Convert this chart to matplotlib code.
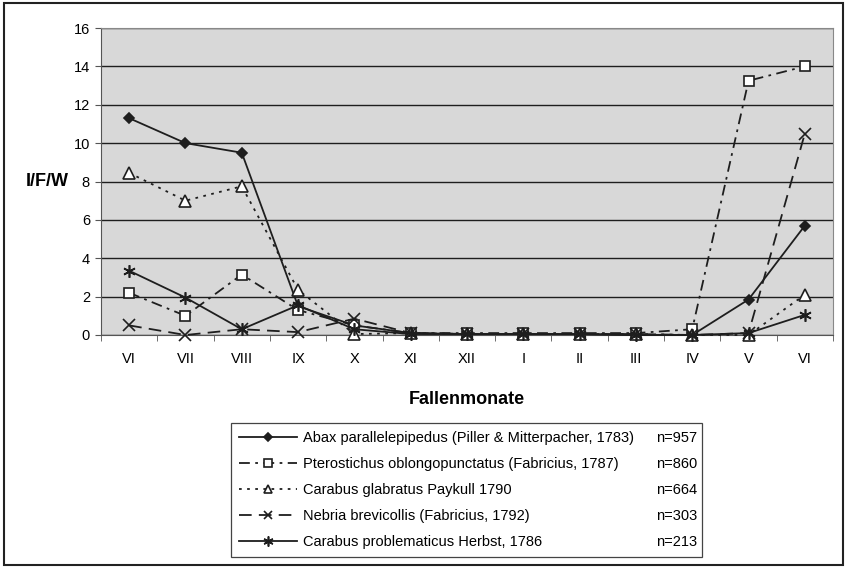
import matplotlib

matplotlib.use("Agg")
import matplotlib.pyplot as plt  # noqa: E402
from matplotlib.patches import Rectangle  # noqa: E402

plt.rcParams["font.family"] = ["Liberation Sans", "DejaVu Sans"]

MONTHS = ["VI", "VII", "VIII", "IX", "X", "XI", "XII", "I", "II", "III", "IV", "V", "VI"]

ABAX = [11.3, 10.0, 9.5, 1.5, 0.5, 0.1, 0.05, 0.05, 0.05, 0.0, 0.0, 1.85, 5.7]
PTEROSTICHUS = [2.2, 1.0, 3.15, 1.3, 0.5, 0.1, 0.1, 0.1, 0.1, 0.1, 0.3, 13.25, 14.0]
GLABRATUS = [8.45, 7.0, 7.75, 2.35, 0.05, 0.1, 0.05, 0.05, 0.05, 0.05, 0.0, 0.0, 2.1]
NEBRIA = [0.5, 0.0, 0.3, 0.15, 0.85, 0.1, 0.05, 0.05, 0.05, 0.05, 0.0, 0.1, 10.5]
PROBLEMATICUS = [3.35, 1.95, 0.3, 1.55, 0.3, 0.05, 0.05, 0.05, 0.05, 0.0, 0.0, 0.1, 1.05]

NAMES = ["Abax parallelepipedus (Piller & Mitterpacher, 1783)",
         "Pterostichus oblongopunctatus (Fabricius, 1787)",
         "Carabus glabratus Paykull 1790",
         "Nebria brevicollis (Fabricius, 1792)",
         "Carabus problematicus Herbst, 1786"]
COUNTS = ["n=957", "n=860", "n=664", "n=303", "n=213"]

INK = "#1e1e1e"

fig = plt.figure(figsize=(8.47, 5.70), dpi=100, facecolor="white")
ax = fig.add_axes([101 / 847, 1 - 335 / 570, (833 - 101) / 847, (335 - 28) / 570])
ax.set_facecolor("#d8d8d8")

x = list(range(len(MONTHS)))
styles = [
    dict(data=ABAX, ls="-", marker="D", ms=5.5, mfc=INK),
    dict(data=PTEROSTICHUS, ls=(0, (6, 3, 1.5, 3)), marker="s", ms=7, mfc="white"),
    dict(data=GLABRATUS, ls=(0, (1.5, 3)), marker="^", ms=8, mfc="white"),
    dict(data=NEBRIA, ls=(0, (7, 4)), marker="x", ms=8, mfc=INK),
    dict(data=PROBLEMATICUS, ls="-", marker=(6, 2, 0), ms=9, mfc=INK),
]
handles = []
for st, name in zip(styles, NAMES):
    h, = ax.plot(x, st["data"], color=INK, lw=1.3, linestyle=st["ls"],
                 marker=st["marker"], markersize=st["ms"],
                 markerfacecolor=st["mfc"], markeredgecolor=INK,
                 markeredgewidth=1.2, label=name, clip_on=False, zorder=3)
    handles.append(h)

ax.set_xlim(-0.5, len(MONTHS) - 0.5)
ax.set_ylim(0, 16)
ax.set_yticks(range(0, 17, 2))
ax.yaxis.grid(True, color=INK, lw=1.0)
ax.set_axisbelow(True)
ax.set_xticks(x)
ax.set_xticklabels(MONTHS, fontsize=10.5)
ax.set_xticks([i - 0.5 for i in range(len(MONTHS) + 1)], minor=True)
ax.tick_params(axis="x", which="major", length=0, pad=12)
ax.tick_params(axis="x", which="minor", length=4, color="#555555")
ax.tick_params(axis="y", labelsize=10.5, length=4, color="#555555", pad=4)

for side in ["top", "right"]:
    ax.spines[side].set_color("#888888")
    ax.spines[side].set_linewidth(0.8)
    ax.spines[side].set_linestyle((0, (1, 1)))
ax.spines["left"].set_color("#555555")
ax.spines["bottom"].set_color("#555555")

ax.set_xlabel("Fallenmonate", fontsize=13, fontweight="bold", labelpad=18)
fig.text(47 / 847, 1 - 182 / 570, "I/F/W", fontsize=13, fontweight="bold",
         ha="center", va="center")

leg = fig.legend(handles=handles, labels=NAMES, loc="upper left",
                 bbox_to_anchor=(231 / 847, 1 - 562 / 570, (702 - 231) / 847, (562 - 423) / 570),
                 mode="expand", fontsize=10.5, handlelength=4.0, handletextpad=0.4,
                 labelspacing=0.82, borderpad=0.55, frameon=True, fancybox=False,
                 borderaxespad=0, framealpha=1.0, markerscale=0.8)
leg.get_frame().set_edgecolor("#444444")
leg.get_frame().set_linewidth(0.9)

# n= column, right aligned inside the legend box
fig.canvas.draw()
inv = fig.transFigure.inverted()
for t, n in zip(leg.get_texts(), COUNTS):
    bb = t.get_window_extent()
    yc = inv.transform((0, (bb.y0 + bb.y1) / 2))[1]
    fig.text(697 / 847, yc, n, fontsize=10.5, ha="right", va="center", zorder=10)

fig.patches.append(Rectangle((4 / 847, 1 - 565 / 570), (843 - 4) / 847, (565 - 3) / 570,
                             transform=fig.transFigure, fill=False,
                             edgecolor="#222222", linewidth=1.5))

fig.savefig("out.png", dpi=100)
